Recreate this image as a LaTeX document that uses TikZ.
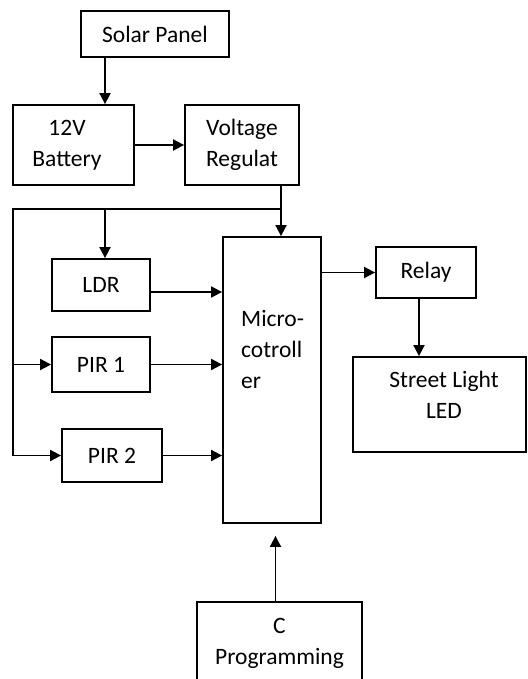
\documentclass[tikz,border=0pt]{standalone}
\usepackage{fontspec}
\setmainfont{Carlito}
\usetikzlibrary{arrows.meta}
\begin{document}
\begin{tikzpicture}[x=1pt,y=-1pt,
  blk/.style={draw,line width=1.8pt,inner sep=0pt,align=center,font=\fontsize{23.5}{31}\selectfont},
  txt/.style={inner sep=0pt,font=\fontsize{23.5}{31}\selectfont},
  wire/.style={line width=1.8pt},
  ar/.style={-{Triangle[length=11pt,width=11pt]},line width=1.8pt}
]
\useasboundingbox (0,0) rectangle (527,679);
\clip (0,0) rectangle (527,679);
\node[blk,minimum width=148pt,minimum height=46pt] (solar) at (155,34) {Solar Panel};
\node[blk,minimum width=121pt,minimum height=80pt] (batt) at (73.5,145) {};
\node[txt,align=center] (batttext) at (67,145) {12V\\Battery};
\node[blk,minimum width=114pt,minimum height=80pt] (reg) at (242,145) {Voltage\\Regulat};
\node[blk,minimum width=98pt,minimum height=286pt] (mc) at (272,380) {};
\node[txt,anchor=west,align=left] (mctext) at (241,349) {Micro-\\cotroll\\er};
\node[blk,minimum width=98pt,minimum height=52pt] (ldr) at (101,285) {LDR};
\node[blk,minimum width=98pt,minimum height=55pt] (pir1) at (101,364.5) {PIR 1};
\node[blk,minimum width=100pt,minimum height=53pt] (pir2) at (112,455.5) {PIR 2};
\node[blk,minimum width=100pt,minimum height=51pt] (relay) at (426,272.5) {Relay};
\node[blk,minimum width=173pt,minimum height=95pt] (led) at (439.5,404.5) {};
\node[txt,align=center] (ledtext) at (444,395) {Street Light\\LED};
\node[blk,minimum width=165pt,minimum height=82pt] (prog) at (279.5,643) {C\\Programming};
\coordinate (tap) at (281,209);
\coordinate (bus) at (13,209);
\draw[ar] ([xshift=-50pt]solar.south) -- ([xshift=31.5pt]batt.north);
\draw[ar] (batt) -- (reg);
\draw[ar] ([xshift=39pt]reg.south) -- ([xshift=39pt]reg.south |- mc.north);
\draw[wire] (tap) -- (bus) -- (bus |- pir2);
\draw[ar] ([xshift=4pt]ldr.north |- bus) -- ([xshift=4pt]ldr.north);
\draw[ar] (bus |- pir1) -- (pir1.west);
\draw[ar] (bus |- pir2) -- (pir2.west);
\draw[ar] ([yshift=-7pt]ldr.east) -- ([yshift=-7pt]ldr.east -| mc.west);
\draw[ar] (pir1.east) -- (pir1 -| mc.west);
\draw[ar] (pir2.east) -- (pir2 -| mc.west);
\draw[ar] (mc.east |- relay) -- (relay.west);
\draw[ar] ([xshift=-7pt]relay.south) -- ([xshift=-7pt]relay.south |- led.north);
\draw[ar,shorten >=12pt] ([xshift=-4pt]prog.north) -- ([xshift=-4pt]prog.north |- mc.south);
\end{tikzpicture}
\end{document}
